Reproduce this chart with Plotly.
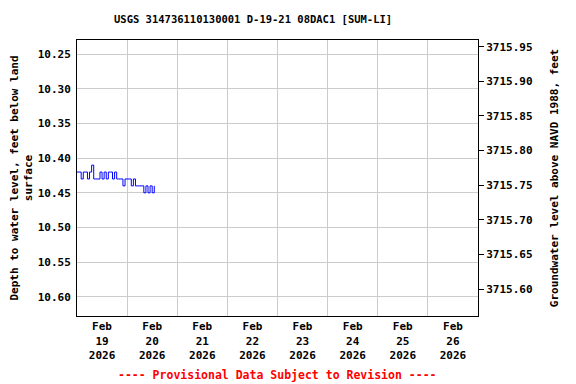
import plotly.graph_objects as go
from datetime import datetime, timedelta

title = "USGS 314736110130001 D-19-21 08DAC1 [SUM-LI]"
footer = "---- Provisional Data Subject to Revision ----"
left_title = "Depth to water level, feet below land<br>surface"
right_title = "Groundwater level above NAVD 1988, feet"

start = datetime(2026, 2, 19, 0, 0)
# hourly depth to water (ft below land surface)
depth = [10.42, 10.42, 10.43, 10.42, 10.42, 10.43, 10.42, 10.41, 10.43, 10.43,
         10.43, 10.42, 10.43, 10.42, 10.43, 10.42, 10.42, 10.43, 10.42, 10.43,
         10.43, 10.43, 10.44, 10.43, 10.43, 10.43, 10.44, 10.43, 10.44, 10.44,
         10.44, 10.44, 10.45, 10.44, 10.45, 10.44, 10.45, 10.44]
times = [start + timedelta(hours=h) for h in range(len(depth))]
land_datum = 3726.189
elev = [land_datum - d for d in depth]

tick_days = [datetime(2026, 2, d, 12) for d in range(19, 27)]
tick_text = [f"Feb<br>{d}<br>2026" for d in range(19, 27)]
left_ticks = [10.25, 10.30, 10.35, 10.40, 10.45, 10.50, 10.55, 10.60]
right_ticks = [3715.60, 3715.65, 3715.70, 3715.75, 3715.80, 3715.85, 3715.90, 3715.95]

FONT = "DejaVu Sans Mono"
OFF = 8  # page body margin offset
W, H = 576 - OFF, 384 - OFF
L, T = 77 - OFF, 40 - OFF
pw, ph = 401, 276
R = W - L - pw
B = H - T - ph

def px_x(x):
    return (x - OFF - L) / pw

def px_y(y):
    return (T + ph - (y - OFF)) / ph

fig = go.Figure()
fig.add_trace(go.Scatter(x=times, y=depth, mode="lines", line=dict(color="#0000ff", width=1, shape="hv"),
                         showlegend=False, yaxis="y"))
fig.add_trace(go.Scatter(x=times, y=elev, mode="lines", line=dict(color="rgba(0,0,0,0)", width=0),
                         showlegend=False, hoverinfo="skip", yaxis="y2"))

fig.update_layout(
    width=W, height=H,
    margin=dict(l=L, r=R, t=T, b=B),
    paper_bgcolor="white", plot_bgcolor="white",
    font=dict(family=FONT, size=11, color="black", weight="bold"),
    xaxis=dict(
        range=[datetime(2026, 2, 19), datetime(2026, 2, 27)],
        tickmode="array", tickvals=tick_days, ticktext=tick_text,
        ticks="", showgrid=False, automargin=False,
        showline=True, linecolor="black", linewidth=1, mirror=True,
        minor=dict(dtick=86400000, tick0="2026-02-19", showgrid=True, gridcolor="#cccccc", gridwidth=1, ticks=""),
        tickfont=dict(family=FONT, size=11, weight="bold"),
    ),
    yaxis=dict(
        range=[10.6279, 10.2293],
        tickmode="array", tickvals=left_ticks, ticktext=[f"{v:.2f}" for v in left_ticks],
        showgrid=True, gridcolor="#cccccc", gridwidth=1, automargin=False,
        showline=True, linecolor="black", linewidth=1,
        zeroline=False, ticks="outside", ticklen=3, tickcolor="rgba(0,0,0,0)",
        title=dict(text=left_title, font=dict(family=FONT, size=11, weight="bold"), standoff=7),
    ),
    yaxis2=dict(
        range=[3715.5611, 3715.9597],
        overlaying="y", side="right", automargin=False,
        tickmode="array", tickvals=right_ticks, ticktext=[f"{v:.2f}" for v in right_ticks],
        showgrid=False, zeroline=False,
        showline=True, linecolor="black", linewidth=1,
        ticks="outside", ticklen=5, tickcolor="black",
        title=dict(text=right_title, font=dict(family=FONT, size=11, weight="bold"), standoff=18),
    ),
    annotations=[
        dict(text=title, x=px_x(252.5), y=px_y(19), xref="paper", yref="paper",
             xanchor="center", yanchor="middle", showarrow=False,
             font=dict(family=FONT, size=10.5, weight="bold")),
        dict(text=footer, x=px_x(277.5), y=px_y(375), xref="paper", yref="paper",
             xanchor="center", yanchor="middle", showarrow=False,
             font=dict(family=FONT, size=11.5, color="red", weight="bold")),
    ],
)

fig.write_html("out.html")
